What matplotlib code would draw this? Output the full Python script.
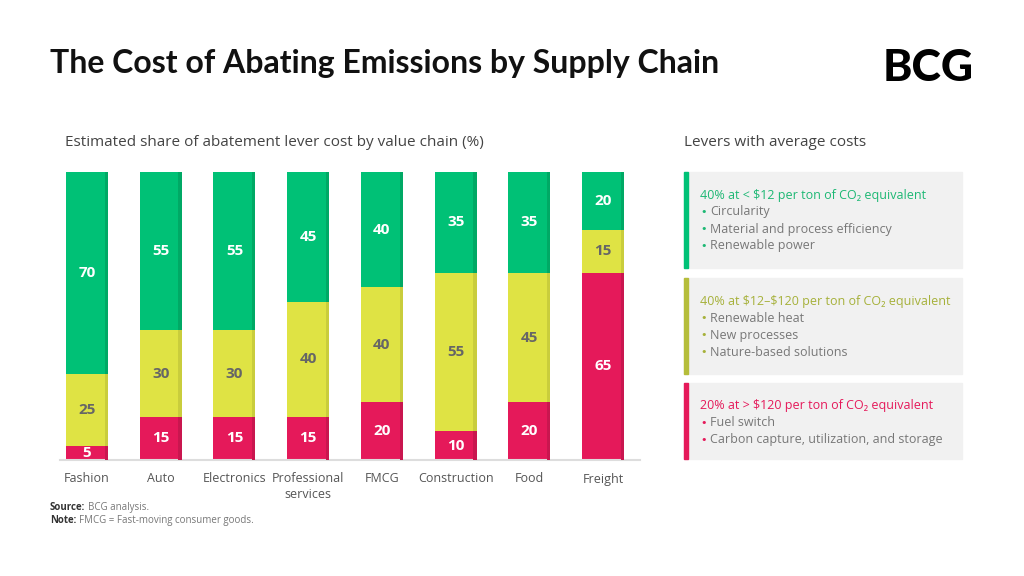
import matplotlib.pyplot as plt
from matplotlib.patches import Rectangle

plt.rcParams['font.family'] = ['Open Sans', 'DejaVu Sans']

categories = ["Fashion", "Auto", "Electronics", "Professional\nservices",
              "FMCG", "Construction", "Food", "Freight"]
low_cost = [70, 55, 55, 45, 40, 35, 35, 20]
mid_cost = [25, 30, 30, 40, 40, 55, 45, 15]
high_cost = [5, 15, 15, 15, 20, 10, 20, 65]

GREEN, GREEN_DK = "#00c176", "#00a965"
YELLOW, YELLOW_DK = "#dfe344", "#c9cd3c"
RED, RED_DK = "#e5195a", "#c9164f"

W, H = 1024, 576
fig = plt.figure(figsize=(W / 100, H / 100), dpi=100)


def fx(x):
    return x / W


def fy(y):
    return 1 - y / H


# header
fig.text(fx(50), fy(63), "The Cost of Abating Emissions by Supply Chain",
         fontsize=23, fontweight="bold", color="#111111", va="center",
         family=["Lato", "DejaVu Sans"])
fig.text(fx(974), fy(68), "BCG", fontsize=32, fontweight="black",
         color="black", ha="right", va="center", family=["Lato", "DejaVu Sans"])

fig.text(fx(65), fy(143), "Estimated share of abatement lever cost by value chain (%)",
         fontsize=11, color="#444444", va="center")

# stacked bars
ax = fig.add_axes([fx(60), fy(460), fx(640) - fx(60), fy(172) - fy(460)])
x = range(len(categories))
bw = 0.57
sw = 0.045
bottom = [0] * len(categories)
for vals, col, dk, tcol in [(high_cost, RED, RED_DK, "white"),
                            (mid_cost, YELLOW, YELLOW_DK, "#666666"),
                            (low_cost, GREEN, GREEN_DK, "white")]:
    ax.bar(x, vals, bw, bottom=bottom, color=col, zorder=2)
    ax.bar([i + bw / 2 - sw / 2 for i in x], vals, sw, bottom=bottom, color=dk, zorder=3)
    for i, v in enumerate(vals):
        ax.text(i, bottom[i] + v / 2, str(v), ha="center", va="center",
                fontsize=11, fontweight="bold", color=tcol, zorder=4)
    bottom = [b + v for b, v in zip(bottom, vals)]

ax.set_xlim(-0.366, 7.5)
ax.set_ylim(0, 100)
ax.set_xticks(list(x))
ax.set_xticklabels(categories, fontsize=9, color="#555555", linespacing=1.3, va="top")
ax.tick_params(axis="x", length=0, pad=9)
ax.set_yticks([])
for s in ["top", "left", "right"]:
    ax.spines[s].set_visible(False)
ax.spines["bottom"].set_color("#dddddd")
ax.spines["bottom"].set_linewidth(1.5)

# footnotes: bold lead-in followed by gray text
renderer = fig.canvas.get_renderer()
for yy, lead, rest in [(510, "Source:", "BCG analysis."),
                       (523, "Note:", "FMCG = Fast-moving consumer goods.")]:
    t = fig.text(fx(50), fy(yy), lead, fontsize=7, fontweight="bold", color="#333333", va="baseline")
    ext = t.get_window_extent(renderer)
    fig.text(fx(ext.x1 + 3), fy(yy), rest, fontsize=7, color="#777777", va="baseline")

# right-side lever panels
fig.text(fx(684), fy(143), "Levers with average costs", fontsize=11, color="#444444", va="center")

panels = [
    (172, 268, GREEN, "#1db874", "40% at < \\$12 per ton of CO\u2082 equivalent",
     ["Circularity", "Material and process efficiency", "Renewable power"]),
    (278, 374, "#b5bd3a", "#a6b13a", "40% at \\$12\u2013\\$120 per ton of CO\u2082 equivalent",
     ["Renewable heat", "New processes", "Nature-based solutions"]),
    (383, 459, RED, RED, "20% at > \\$120 per ton of CO\u2082 equivalent",
     ["Fuel switch", "Carbon capture, utilization, and storage"]),
]
for top, bot, bar_col, txt_col, head, items in panels:
    fig.patches.append(Rectangle((fx(684), fy(bot)), fx(962) - fx(684), fy(top) - fy(bot),
                                 transform=fig.transFigure, color="#f1f1f1", zorder=0))
    fig.patches.append(Rectangle((fx(684), fy(bot)), fx(4), fy(top) - fy(bot),
                                 transform=fig.transFigure, color=bar_col, zorder=1))
    fig.text(fx(700), fy(top + 23), head, fontsize=9, color=txt_col, va="center")
    for k, item in enumerate(items):
        yy = fy(top + 40 + 17 * k)
        fig.text(fx(700), yy, "\u2022", fontsize=8, color=txt_col, va="center",
                 family="DejaVu Sans")
        fig.text(fx(710), yy, item, fontsize=9, color="#777777", va="center")

fig.savefig("out.png", dpi=100)
